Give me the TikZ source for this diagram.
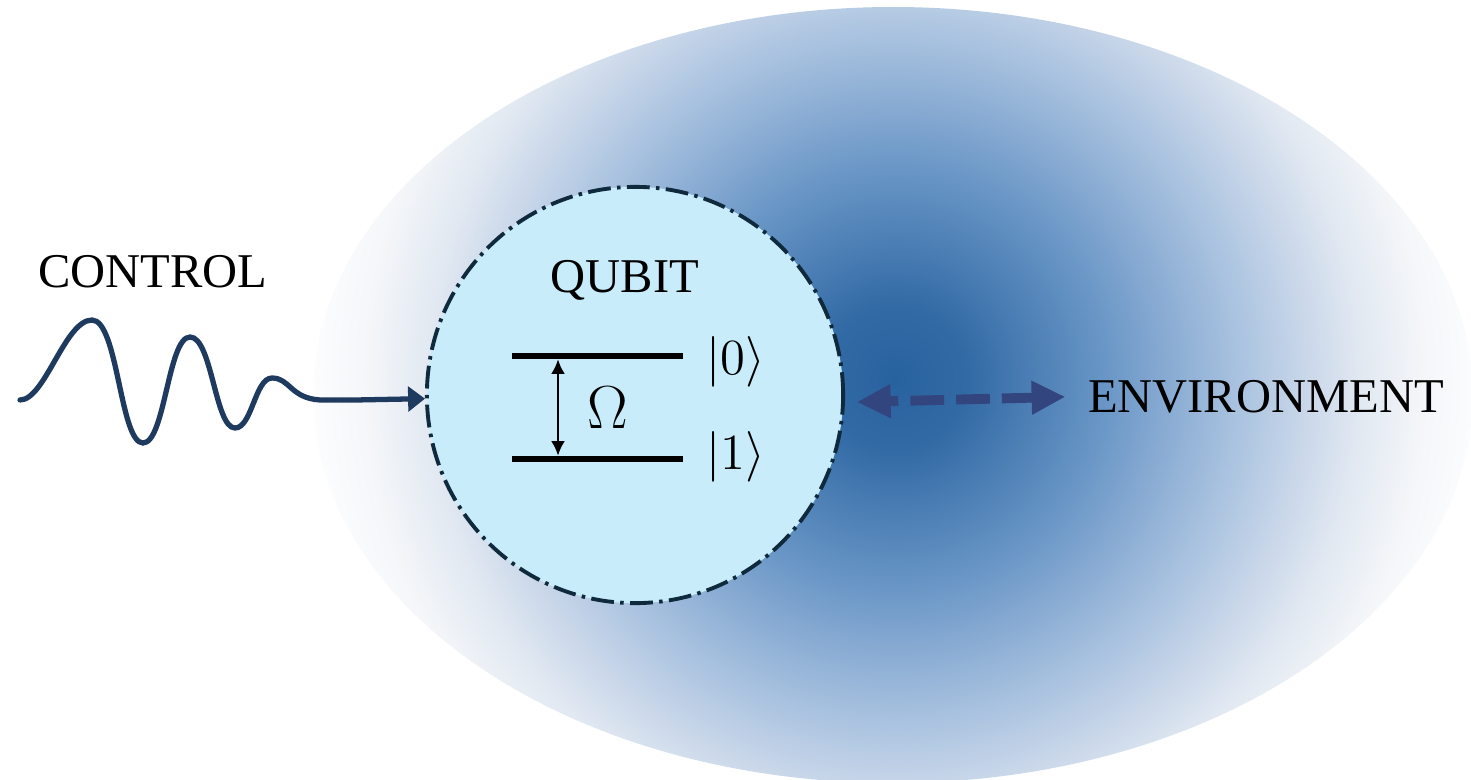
\documentclass[tikz,border=0pt]{standalone}
\usepackage{fontspec}
\setmainfont{Liberation Serif}
\usetikzlibrary{arrows.meta}
\definecolor{glowA}{RGB}{40,98,158}\definecolor{glowB}{RGB}{50,106,165}
\definecolor{glowC}{RGB}{105,150,198}\definecolor{glowD}{RGB}{135,170,210}
\definecolor{glowE}{RGB}{170,195,224}\definecolor{glowF}{RGB}{200,214,233}
\definecolor{glowG}{RGB}{226,233,242}\definecolor{glowH}{RGB}{244,246,249}
\definecolor{qubitfill}{RGB}{201,236,251}\definecolor{qubitedge}{RGB}{15,42,60}
\definecolor{pulsecol}{RGB}{31,58,95}\definecolor{couplecol}{RGB}{50,69,127}
\pgfdeclareradialshading{envglow}{\pgfpoint{0bp}{0bp}}{color(0bp)=(glowA); color(3bp)=(glowB); color(8.75bp)=(glowC); color(11.25bp)=(glowD); color(14.4bp)=(glowE); color(17bp)=(glowF); color(19.5bp)=(glowG); color(22bp)=(glowH); color(25bp)=(white); color(50bp)=(white)}

\begin{document}
\begin{tikzpicture}[x=0.01cm,y=-0.01cm,
  lbl/.style={font=\fontsize{13.8}{16}\selectfont,anchor=base,inner sep=0pt},
  qubitdisc/.style={circle,minimum size=4.16cm,inner sep=0pt,fill=qubitfill,draw=qubitedge,line width=1.1pt,dash pattern=on 6.5pt off 1.8pt on 1pt off 1.8pt},
  pulse/.style={line width=1.5pt,draw=pulsecol,line cap=round,-{Triangle[length=4.8pt,width=7pt]}},
  couple/.style={line width=2.8pt,draw=couplecol,dash pattern=on 9.6pt off 3.4pt,dash phase=6.8pt,{Triangle[length=9.6pt,width=9pt]}-{Triangle[length=9.6pt,width=9pt]}},
  level/.style={line width=1.75pt},
  gap/.style={line width=0.8pt,{Latex[length=4.2pt,width=4pt]}-{Latex[length=4.2pt,width=4pt]},shorten <=0.9pt,shorten >=0.9pt}]
\useasboundingbox(0,0)rectangle(1471,779);
\begin{scope}\clip(893,395)ellipse(580 and 388);\shade[shading=envglow](895,378)circle(600);\end{scope}
\node[qubitdisc](qubit)at(635,395){};
\node[lbl](qlbl)at(625,292){QUBIT};
\node[lbl](ctrl)at(153,287){CONTROL};
\node[lbl](env)at(1266,412){ENVIRONMENT};
\coordinate(l0a)at(512,356);\coordinate(l0b)at(683,356);\coordinate(l1a)at(512,459);\coordinate(l1b)at(683,459);
\draw[level](l0a)--(l0b);\draw[level](l1a)--(l1b);
\coordinate(g0)at(558,356);\coordinate(g1)at(558,459);
\draw[gap](g0)--(g1);
\node[lbl,font=\fontsize{18}{20}\selectfont](omega)at(608,428){$\Omega$};
\node[lbl,font=\fontsize{15}{17}\selectfont](ket0)at(736,374){$|0\rangle$};
\node[lbl,font=\fontsize{15}{17}\selectfont](ket1)at(736,469){$|1\rangle$};
\draw[pulse](20,400).. controls (45,400) and (65,320) ..(92,320)
  .. controls (118,320) and (120,443) ..(143,443).. controls (165,443) and (168,337) ..(190,337)
  .. controls (212,337) and (215,428) ..(235,428).. controls (252,428) and (255,378) ..(272,378)
  .. controls (290,378) and (290,398) ..(320,400)--(355,400)--(qubit.181);
\draw[couple,shorten <=0.12cm,shorten >=0.22cm](qubit.-2)--(env.west);
\end{tikzpicture}
\end{document}
